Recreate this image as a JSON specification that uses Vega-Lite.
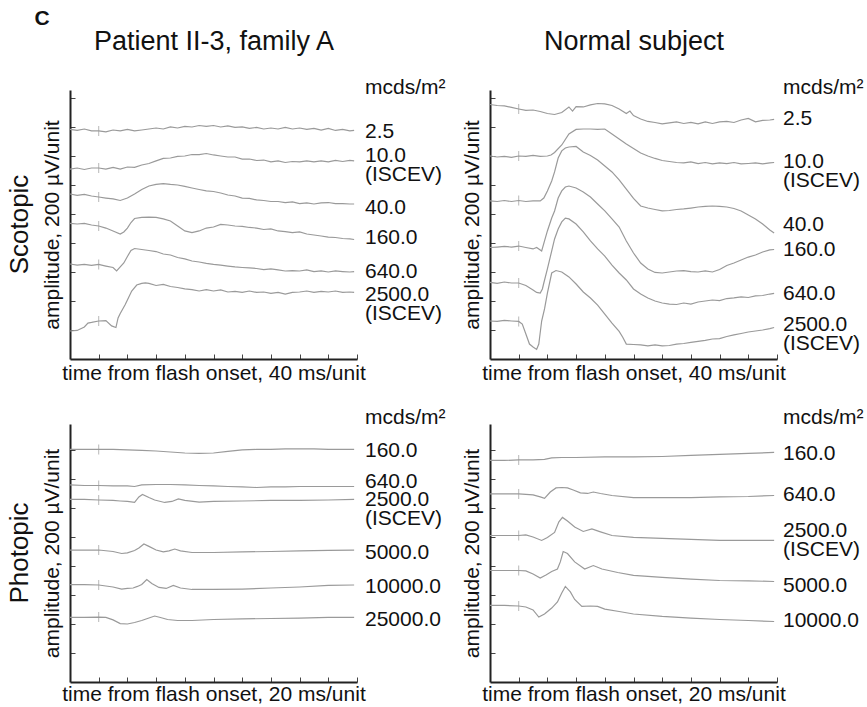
{
"$schema": "https://vega.github.io/schema/vega-lite/v6.json",
"padding": {"left": 6, "top": 8, "right": 0, "bottom": 0},
"background": "white",
"title": {"text": "C", "anchor": "start", "fontSize": 21, "fontWeight": "bold", "dx": 28, "offset": -2},
"datasets": {
"lsp": [{"k":"2.5","v":1576},{"k":"10.0 (ISCEV)","v":1410},{"k":"40.0","v":1050},{"k":"160.0","v":848},{"k":"640.0","v":607},{"k":"2500.0 (ISCEV)","v":452}],
"lsn": [{"k":"2.5","v":1666},{"k":"10.0 (ISCEV)","v":1369},{"k":"40.0","v":935},{"k":"160.0","v":762},{"k":"640.0","v":459},{"k":"2500.0 (ISCEV)","v":245}],
"lpp": [{"k":"160.0","v":1600},{"k":"640.0","v":1390},{"k":"2500.0 (ISCEV)","v":1266},{"k":"5000.0","v":900},{"k":"10000.0","v":666},{"k":"25000.0","v":438}],
"lpn": [{"k":"160.0","v":1583},{"k":"640.0","v":1297},{"k":"2500.0 (ISCEV)","v":1052},{"k":"5000.0","v":672},{"k":"10000.0","v":431}],
"sp": [
{"k":"2.5","t":-40,"v":1583},{"k":"2.5","t":-30,"v":1576},{"k":"2.5","t":-20,"v":1586},{"k":"2.5","t":-10,"v":1573},{"k":"2.5","t":0,"v":1573},{"k":"2.5","t":10,"v":1566},{"k":"2.5","t":20,"v":1579},{"k":"2.5","t":30,"v":1573},{"k":"2.5","t":40,"v":1583},{"k":"2.5","t":50,"v":1573},{"k":"2.5","t":60,"v":1579},{"k":"2.5","t":70,"v":1586},{"k":"2.5","t":80,"v":1593},{"k":"2.5","t":90,"v":1586},{"k":"2.5","t":100,"v":1600},{"k":"2.5","t":110,"v":1593},{"k":"2.5","t":120,"v":1604},{"k":"2.5","t":130,"v":1600},{"k":"2.5","t":140,"v":1610},{"k":"2.5","t":150,"v":1604},{"k":"2.5","t":160,"v":1610},{"k":"2.5","t":170,"v":1600},{"k":"2.5","t":180,"v":1607},{"k":"2.5","t":190,"v":1597},{"k":"2.5","t":200,"v":1600},{"k":"2.5","t":210,"v":1590},{"k":"2.5","t":220,"v":1597},{"k":"2.5","t":230,"v":1586},{"k":"2.5","t":240,"v":1593},{"k":"2.5","t":250,"v":1586},{"k":"2.5","t":260,"v":1597},{"k":"2.5","t":270,"v":1586},{"k":"2.5","t":280,"v":1593},{"k":"2.5","t":290,"v":1583},{"k":"2.5","t":300,"v":1590},{"k":"2.5","t":310,"v":1579},{"k":"2.5","t":320,"v":1590},{"k":"2.5","t":330,"v":1576},{"k":"2.5","t":340,"v":1583},{"k":"2.5","t":350,"v":1573},{"k":"2.5","t":356,"v":1576},
{"k":"10.0 (ISCEV)","t":-40,"v":1310},{"k":"10.0 (ISCEV)","t":-30,"v":1317},{"k":"10.0 (ISCEV)","t":-20,"v":1307},{"k":"10.0 (ISCEV)","t":-10,"v":1317},{"k":"10.0 (ISCEV)","t":0,"v":1317},{"k":"10.0 (ISCEV)","t":10,"v":1310},{"k":"10.0 (ISCEV)","t":20,"v":1321},{"k":"10.0 (ISCEV)","t":30,"v":1310},{"k":"10.0 (ISCEV)","t":40,"v":1324},{"k":"10.0 (ISCEV)","t":50,"v":1321},{"k":"10.0 (ISCEV)","t":60,"v":1338},{"k":"10.0 (ISCEV)","t":70,"v":1348},{"k":"10.0 (ISCEV)","t":80,"v":1366},{"k":"10.0 (ISCEV)","t":90,"v":1383},{"k":"10.0 (ISCEV)","t":100,"v":1386},{"k":"10.0 (ISCEV)","t":110,"v":1397},{"k":"10.0 (ISCEV)","t":120,"v":1400},{"k":"10.0 (ISCEV)","t":130,"v":1410},{"k":"10.0 (ISCEV)","t":140,"v":1410},{"k":"10.0 (ISCEV)","t":150,"v":1417},{"k":"10.0 (ISCEV)","t":160,"v":1407},{"k":"10.0 (ISCEV)","t":170,"v":1400},{"k":"10.0 (ISCEV)","t":180,"v":1393},{"k":"10.0 (ISCEV)","t":190,"v":1393},{"k":"10.0 (ISCEV)","t":200,"v":1379},{"k":"10.0 (ISCEV)","t":210,"v":1379},{"k":"10.0 (ISCEV)","t":220,"v":1369},{"k":"10.0 (ISCEV)","t":230,"v":1372},{"k":"10.0 (ISCEV)","t":240,"v":1359},{"k":"10.0 (ISCEV)","t":250,"v":1366},{"k":"10.0 (ISCEV)","t":260,"v":1355},{"k":"10.0 (ISCEV)","t":270,"v":1362},{"k":"10.0 (ISCEV)","t":280,"v":1359},{"k":"10.0 (ISCEV)","t":290,"v":1366},{"k":"10.0 (ISCEV)","t":300,"v":1359},{"k":"10.0 (ISCEV)","t":310,"v":1366},{"k":"10.0 (ISCEV)","t":320,"v":1359},{"k":"10.0 (ISCEV)","t":330,"v":1369},{"k":"10.0 (ISCEV)","t":340,"v":1362},{"k":"10.0 (ISCEV)","t":350,"v":1369},{"k":"10.0 (ISCEV)","t":356,"v":1366},
{"k":"40.0","t":-40,"v":1138},{"k":"40.0","t":-30,"v":1128},{"k":"40.0","t":-20,"v":1135},{"k":"40.0","t":-10,"v":1124},{"k":"40.0","t":0,"v":1117},{"k":"40.0","t":10,"v":1110},{"k":"40.0","t":20,"v":1104},{"k":"40.0","t":30,"v":1093},{"k":"40.0","t":40,"v":1110},{"k":"40.0","t":50,"v":1138},{"k":"40.0","t":60,"v":1169},{"k":"40.0","t":70,"v":1193},{"k":"40.0","t":80,"v":1204},{"k":"40.0","t":90,"v":1210},{"k":"40.0","t":100,"v":1204},{"k":"40.0","t":110,"v":1200},{"k":"40.0","t":120,"v":1190},{"k":"40.0","t":130,"v":1179},{"k":"40.0","t":140,"v":1169},{"k":"40.0","t":150,"v":1159},{"k":"40.0","t":160,"v":1155},{"k":"40.0","t":170,"v":1145},{"k":"40.0","t":180,"v":1131},{"k":"40.0","t":190,"v":1124},{"k":"40.0","t":200,"v":1110},{"k":"40.0","t":210,"v":1107},{"k":"40.0","t":220,"v":1097},{"k":"40.0","t":230,"v":1093},{"k":"40.0","t":240,"v":1086},{"k":"40.0","t":250,"v":1086},{"k":"40.0","t":260,"v":1079},{"k":"40.0","t":270,"v":1083},{"k":"40.0","t":280,"v":1072},{"k":"40.0","t":290,"v":1076},{"k":"40.0","t":300,"v":1069},{"k":"40.0","t":310,"v":1076},{"k":"40.0","t":320,"v":1079},{"k":"40.0","t":330,"v":1072},{"k":"40.0","t":340,"v":1072},{"k":"40.0","t":350,"v":1069},{"k":"40.0","t":356,"v":1069},
{"k":"160.0","t":-40,"v":935},{"k":"160.0","t":-30,"v":931},{"k":"160.0","t":-20,"v":935},{"k":"160.0","t":-10,"v":924},{"k":"160.0","t":0,"v":917},{"k":"160.0","t":10,"v":903},{"k":"160.0","t":20,"v":883},{"k":"160.0","t":30,"v":862},{"k":"160.0","t":35,"v":876},{"k":"160.0","t":40,"v":903},{"k":"160.0","t":45,"v":941},{"k":"160.0","t":50,"v":969},{"k":"160.0","t":60,"v":976},{"k":"160.0","t":70,"v":979},{"k":"160.0","t":80,"v":976},{"k":"160.0","t":90,"v":966},{"k":"160.0","t":100,"v":952},{"k":"160.0","t":110,"v":917},{"k":"160.0","t":120,"v":883},{"k":"160.0","t":130,"v":872},{"k":"160.0","t":140,"v":883},{"k":"160.0","t":150,"v":903},{"k":"160.0","t":160,"v":910},{"k":"160.0","t":170,"v":928},{"k":"160.0","t":180,"v":924},{"k":"160.0","t":190,"v":917},{"k":"160.0","t":200,"v":914},{"k":"160.0","t":210,"v":907},{"k":"160.0","t":220,"v":903},{"k":"160.0","t":230,"v":893},{"k":"160.0","t":240,"v":897},{"k":"160.0","t":250,"v":883},{"k":"160.0","t":260,"v":879},{"k":"160.0","t":270,"v":872},{"k":"160.0","t":280,"v":876},{"k":"160.0","t":290,"v":862},{"k":"160.0","t":300,"v":855},{"k":"160.0","t":310,"v":848},{"k":"160.0","t":320,"v":841},{"k":"160.0","t":330,"v":838},{"k":"160.0","t":340,"v":831},{"k":"160.0","t":350,"v":828},{"k":"160.0","t":356,"v":824},
{"k":"640.0","t":-40,"v":655},{"k":"640.0","t":-30,"v":648},{"k":"640.0","t":-20,"v":652},{"k":"640.0","t":-10,"v":645},{"k":"640.0","t":0,"v":652},{"k":"640.0","t":10,"v":641},{"k":"640.0","t":20,"v":631},{"k":"640.0","t":25,"v":607},{"k":"640.0","t":30,"v":635},{"k":"640.0","t":35,"v":662},{"k":"640.0","t":40,"v":707},{"k":"640.0","t":45,"v":748},{"k":"640.0","t":50,"v":762},{"k":"640.0","t":60,"v":755},{"k":"640.0","t":70,"v":748},{"k":"640.0","t":80,"v":741},{"k":"640.0","t":90,"v":724},{"k":"640.0","t":100,"v":717},{"k":"640.0","t":110,"v":700},{"k":"640.0","t":120,"v":690},{"k":"640.0","t":130,"v":676},{"k":"640.0","t":140,"v":669},{"k":"640.0","t":150,"v":659},{"k":"640.0","t":160,"v":652},{"k":"640.0","t":170,"v":648},{"k":"640.0","t":180,"v":641},{"k":"640.0","t":190,"v":635},{"k":"640.0","t":200,"v":631},{"k":"640.0","t":210,"v":628},{"k":"640.0","t":220,"v":624},{"k":"640.0","t":230,"v":617},{"k":"640.0","t":240,"v":621},{"k":"640.0","t":250,"v":614},{"k":"640.0","t":260,"v":607},{"k":"640.0","t":270,"v":610},{"k":"640.0","t":280,"v":607},{"k":"640.0","t":290,"v":614},{"k":"640.0","t":300,"v":603},{"k":"640.0","t":310,"v":607},{"k":"640.0","t":320,"v":600},{"k":"640.0","t":330,"v":607},{"k":"640.0","t":340,"v":603},{"k":"640.0","t":350,"v":600},{"k":"640.0","t":356,"v":603},
{"k":"2500.0 (ISCEV)","t":-40,"v":193},{"k":"2500.0 (ISCEV)","t":-30,"v":197},{"k":"2500.0 (ISCEV)","t":-20,"v":221},{"k":"2500.0 (ISCEV)","t":-15,"v":248},{"k":"2500.0 (ISCEV)","t":-10,"v":252},{"k":"2500.0 (ISCEV)","t":0,"v":262},{"k":"2500.0 (ISCEV)","t":10,"v":265},{"k":"2500.0 (ISCEV)","t":18,"v":228},{"k":"2500.0 (ISCEV)","t":24,"v":217},{"k":"2500.0 (ISCEV)","t":27,"v":283},{"k":"2500.0 (ISCEV)","t":30,"v":314},{"k":"2500.0 (ISCEV)","t":37,"v":376},{"k":"2500.0 (ISCEV)","t":40,"v":407},{"k":"2500.0 (ISCEV)","t":46,"v":469},{"k":"2500.0 (ISCEV)","t":53,"v":510},{"k":"2500.0 (ISCEV)","t":60,"v":521},{"k":"2500.0 (ISCEV)","t":65,"v":525},{"k":"2500.0 (ISCEV)","t":70,"v":521},{"k":"2500.0 (ISCEV)","t":80,"v":507},{"k":"2500.0 (ISCEV)","t":90,"v":514},{"k":"2500.0 (ISCEV)","t":100,"v":500},{"k":"2500.0 (ISCEV)","t":110,"v":493},{"k":"2500.0 (ISCEV)","t":120,"v":483},{"k":"2500.0 (ISCEV)","t":130,"v":479},{"k":"2500.0 (ISCEV)","t":140,"v":469},{"k":"2500.0 (ISCEV)","t":150,"v":479},{"k":"2500.0 (ISCEV)","t":160,"v":469},{"k":"2500.0 (ISCEV)","t":170,"v":476},{"k":"2500.0 (ISCEV)","t":180,"v":462},{"k":"2500.0 (ISCEV)","t":190,"v":466},{"k":"2500.0 (ISCEV)","t":200,"v":459},{"k":"2500.0 (ISCEV)","t":210,"v":469},{"k":"2500.0 (ISCEV)","t":220,"v":459},{"k":"2500.0 (ISCEV)","t":230,"v":462},{"k":"2500.0 (ISCEV)","t":240,"v":452},{"k":"2500.0 (ISCEV)","t":250,"v":459},{"k":"2500.0 (ISCEV)","t":260,"v":448},{"k":"2500.0 (ISCEV)","t":270,"v":459},{"k":"2500.0 (ISCEV)","t":280,"v":462},{"k":"2500.0 (ISCEV)","t":290,"v":469},{"k":"2500.0 (ISCEV)","t":300,"v":459},{"k":"2500.0 (ISCEV)","t":310,"v":466},{"k":"2500.0 (ISCEV)","t":320,"v":462},{"k":"2500.0 (ISCEV)","t":330,"v":469},{"k":"2500.0 (ISCEV)","t":340,"v":459},{"k":"2500.0 (ISCEV)","t":350,"v":462},{"k":"2500.0 (ISCEV)","t":356,"v":459}
],
"sn": [
{"k":"2.5","t":-40,"v":1755},{"k":"2.5","t":-30,"v":1748},{"k":"2.5","t":-20,"v":1745},{"k":"2.5","t":-10,"v":1735},{"k":"2.5","t":0,"v":1724},{"k":"2.5","t":10,"v":1714},{"k":"2.5","t":20,"v":1717},{"k":"2.5","t":30,"v":1707},{"k":"2.5","t":40,"v":1693},{"k":"2.5","t":50,"v":1686},{"k":"2.5","t":60,"v":1700},{"k":"2.5","t":70,"v":1738},{"k":"2.5","t":75,"v":1710},{"k":"2.5","t":80,"v":1741},{"k":"2.5","t":90,"v":1738},{"k":"2.5","t":100,"v":1752},{"k":"2.5","t":110,"v":1762},{"k":"2.5","t":120,"v":1759},{"k":"2.5","t":130,"v":1748},{"k":"2.5","t":140,"v":1724},{"k":"2.5","t":150,"v":1693},{"k":"2.5","t":155,"v":1710},{"k":"2.5","t":160,"v":1679},{"k":"2.5","t":170,"v":1655},{"k":"2.5","t":180,"v":1638},{"k":"2.5","t":190,"v":1631},{"k":"2.5","t":200,"v":1621},{"k":"2.5","t":210,"v":1628},{"k":"2.5","t":220,"v":1635},{"k":"2.5","t":230,"v":1624},{"k":"2.5","t":240,"v":1631},{"k":"2.5","t":250,"v":1621},{"k":"2.5","t":260,"v":1635},{"k":"2.5","t":270,"v":1624},{"k":"2.5","t":280,"v":1635},{"k":"2.5","t":290,"v":1638},{"k":"2.5","t":300,"v":1631},{"k":"2.5","t":310,"v":1648},{"k":"2.5","t":320,"v":1659},{"k":"2.5","t":330,"v":1635},{"k":"2.5","t":340,"v":1645},{"k":"2.5","t":350,"v":1648},{"k":"2.5","t":356,"v":1652},
{"k":"10.0 (ISCEV)","t":-40,"v":1400},{"k":"10.0 (ISCEV)","t":-30,"v":1393},{"k":"10.0 (ISCEV)","t":-20,"v":1397},{"k":"10.0 (ISCEV)","t":-10,"v":1390},{"k":"10.0 (ISCEV)","t":0,"v":1400},{"k":"10.0 (ISCEV)","t":10,"v":1397},{"k":"10.0 (ISCEV)","t":20,"v":1404},{"k":"10.0 (ISCEV)","t":30,"v":1397},{"k":"10.0 (ISCEV)","t":40,"v":1400},{"k":"10.0 (ISCEV)","t":45,"v":1407},{"k":"10.0 (ISCEV)","t":50,"v":1424},{"k":"10.0 (ISCEV)","t":60,"v":1476},{"k":"10.0 (ISCEV)","t":70,"v":1552},{"k":"10.0 (ISCEV)","t":80,"v":1583},{"k":"10.0 (ISCEV)","t":90,"v":1586},{"k":"10.0 (ISCEV)","t":100,"v":1586},{"k":"10.0 (ISCEV)","t":110,"v":1583},{"k":"10.0 (ISCEV)","t":120,"v":1586},{"k":"10.0 (ISCEV)","t":130,"v":1552},{"k":"10.0 (ISCEV)","t":140,"v":1517},{"k":"10.0 (ISCEV)","t":150,"v":1483},{"k":"10.0 (ISCEV)","t":160,"v":1452},{"k":"10.0 (ISCEV)","t":170,"v":1421},{"k":"10.0 (ISCEV)","t":180,"v":1400},{"k":"10.0 (ISCEV)","t":190,"v":1383},{"k":"10.0 (ISCEV)","t":200,"v":1369},{"k":"10.0 (ISCEV)","t":210,"v":1362},{"k":"10.0 (ISCEV)","t":220,"v":1355},{"k":"10.0 (ISCEV)","t":230,"v":1352},{"k":"10.0 (ISCEV)","t":240,"v":1359},{"k":"10.0 (ISCEV)","t":250,"v":1348},{"k":"10.0 (ISCEV)","t":260,"v":1355},{"k":"10.0 (ISCEV)","t":270,"v":1345},{"k":"10.0 (ISCEV)","t":280,"v":1352},{"k":"10.0 (ISCEV)","t":290,"v":1348},{"k":"10.0 (ISCEV)","t":300,"v":1355},{"k":"10.0 (ISCEV)","t":310,"v":1345},{"k":"10.0 (ISCEV)","t":320,"v":1348},{"k":"10.0 (ISCEV)","t":330,"v":1352},{"k":"10.0 (ISCEV)","t":340,"v":1345},{"k":"10.0 (ISCEV)","t":350,"v":1352},{"k":"10.0 (ISCEV)","t":356,"v":1355},
{"k":"40.0","t":-40,"v":1090},{"k":"40.0","t":-30,"v":1086},{"k":"40.0","t":-20,"v":1093},{"k":"40.0","t":-10,"v":1086},{"k":"40.0","t":0,"v":1093},{"k":"40.0","t":10,"v":1086},{"k":"40.0","t":20,"v":1090},{"k":"40.0","t":30,"v":1090},{"k":"40.0","t":35,"v":1110},{"k":"40.0","t":40,"v":1159},{"k":"40.0","t":46,"v":1228},{"k":"40.0","t":50,"v":1290},{"k":"40.0","t":55,"v":1386},{"k":"40.0","t":60,"v":1435},{"k":"40.0","t":65,"v":1455},{"k":"40.0","t":70,"v":1462},{"k":"40.0","t":80,"v":1466},{"k":"40.0","t":90,"v":1428},{"k":"40.0","t":100,"v":1404},{"k":"40.0","t":110,"v":1372},{"k":"40.0","t":120,"v":1331},{"k":"40.0","t":130,"v":1290},{"k":"40.0","t":140,"v":1235},{"k":"40.0","t":150,"v":1172},{"k":"40.0","t":160,"v":1107},{"k":"40.0","t":170,"v":1055},{"k":"40.0","t":180,"v":1041},{"k":"40.0","t":190,"v":1031},{"k":"40.0","t":200,"v":1021},{"k":"40.0","t":210,"v":1024},{"k":"40.0","t":220,"v":1031},{"k":"40.0","t":230,"v":1035},{"k":"40.0","t":240,"v":1041},{"k":"40.0","t":250,"v":1048},{"k":"40.0","t":260,"v":1052},{"k":"40.0","t":270,"v":1055},{"k":"40.0","t":280,"v":1052},{"k":"40.0","t":290,"v":1048},{"k":"40.0","t":300,"v":1038},{"k":"40.0","t":310,"v":1021},{"k":"40.0","t":320,"v":993},{"k":"40.0","t":330,"v":966},{"k":"40.0","t":340,"v":931},{"k":"40.0","t":350,"v":890},{"k":"40.0","t":356,"v":869},
{"k":"160.0","t":-40,"v":769},{"k":"160.0","t":-30,"v":772},{"k":"160.0","t":-20,"v":776},{"k":"160.0","t":-10,"v":772},{"k":"160.0","t":0,"v":779},{"k":"160.0","t":10,"v":769},{"k":"160.0","t":20,"v":759},{"k":"160.0","t":25,"v":769},{"k":"160.0","t":32,"v":745},{"k":"160.0","t":36,"v":814},{"k":"160.0","t":40,"v":883},{"k":"160.0","t":46,"v":972},{"k":"160.0","t":50,"v":1021},{"k":"160.0","t":55,"v":1110},{"k":"160.0","t":60,"v":1159},{"k":"160.0","t":65,"v":1186},{"k":"160.0","t":70,"v":1193},{"k":"160.0","t":80,"v":1179},{"k":"160.0","t":90,"v":1152},{"k":"160.0","t":100,"v":1117},{"k":"160.0","t":110,"v":1069},{"k":"160.0","t":120,"v":1021},{"k":"160.0","t":130,"v":966},{"k":"160.0","t":140,"v":910},{"k":"160.0","t":150,"v":814},{"k":"160.0","t":160,"v":731},{"k":"160.0","t":170,"v":662},{"k":"160.0","t":180,"v":621},{"k":"160.0","t":190,"v":597},{"k":"160.0","t":200,"v":593},{"k":"160.0","t":210,"v":600},{"k":"160.0","t":220,"v":607},{"k":"160.0","t":230,"v":610},{"k":"160.0","t":240,"v":603},{"k":"160.0","t":250,"v":600},{"k":"160.0","t":260,"v":607},{"k":"160.0","t":270,"v":600},{"k":"160.0","t":280,"v":617},{"k":"160.0","t":290,"v":645},{"k":"160.0","t":300,"v":662},{"k":"160.0","t":310,"v":683},{"k":"160.0","t":320,"v":703},{"k":"160.0","t":330,"v":717},{"k":"160.0","t":340,"v":738},{"k":"160.0","t":350,"v":752},{"k":"160.0","t":356,"v":755},
{"k":"640.0","t":-40,"v":528},{"k":"640.0","t":-30,"v":521},{"k":"640.0","t":-20,"v":531},{"k":"640.0","t":-10,"v":524},{"k":"640.0","t":0,"v":524},{"k":"640.0","t":10,"v":507},{"k":"640.0","t":20,"v":476},{"k":"640.0","t":25,"v":459},{"k":"640.0","t":30,"v":455},{"k":"640.0","t":33,"v":483},{"k":"640.0","t":35,"v":524},{"k":"640.0","t":40,"v":621},{"k":"640.0","t":50,"v":828},{"k":"640.0","t":55,"v":897},{"k":"640.0","t":60,"v":945},{"k":"640.0","t":65,"v":972},{"k":"640.0","t":70,"v":966},{"k":"640.0","t":80,"v":931},{"k":"640.0","t":90,"v":876},{"k":"640.0","t":100,"v":814},{"k":"640.0","t":110,"v":759},{"k":"640.0","t":120,"v":710},{"k":"640.0","t":130,"v":648},{"k":"640.0","t":140,"v":593},{"k":"640.0","t":150,"v":545},{"k":"640.0","t":160,"v":483},{"k":"640.0","t":170,"v":448},{"k":"640.0","t":180,"v":421},{"k":"640.0","t":190,"v":400},{"k":"640.0","t":200,"v":386},{"k":"640.0","t":210,"v":379},{"k":"640.0","t":220,"v":376},{"k":"640.0","t":230,"v":386},{"k":"640.0","t":240,"v":379},{"k":"640.0","t":250,"v":393},{"k":"640.0","t":260,"v":400},{"k":"640.0","t":270,"v":407},{"k":"640.0","t":280,"v":403},{"k":"640.0","t":290,"v":417},{"k":"640.0","t":300,"v":421},{"k":"640.0","t":310,"v":428},{"k":"640.0","t":320,"v":424},{"k":"640.0","t":330,"v":435},{"k":"640.0","t":340,"v":438},{"k":"640.0","t":350,"v":448},{"k":"640.0","t":356,"v":452},
{"k":"2500.0 (ISCEV)","t":-40,"v":262},{"k":"2500.0 (ISCEV)","t":-30,"v":259},{"k":"2500.0 (ISCEV)","t":-20,"v":266},{"k":"2500.0 (ISCEV)","t":-10,"v":262},{"k":"2500.0 (ISCEV)","t":0,"v":259},{"k":"2500.0 (ISCEV)","t":5,"v":241},{"k":"2500.0 (ISCEV)","t":10,"v":172},{"k":"2500.0 (ISCEV)","t":15,"v":103},{"k":"2500.0 (ISCEV)","t":20,"v":83},{"k":"2500.0 (ISCEV)","t":25,"v":66},{"k":"2500.0 (ISCEV)","t":28,"v":103},{"k":"2500.0 (ISCEV)","t":32,"v":262},{"k":"2500.0 (ISCEV)","t":36,"v":345},{"k":"2500.0 (ISCEV)","t":40,"v":455},{"k":"2500.0 (ISCEV)","t":46,"v":593},{"k":"2500.0 (ISCEV)","t":52,"v":610},{"k":"2500.0 (ISCEV)","t":60,"v":600},{"k":"2500.0 (ISCEV)","t":70,"v":566},{"k":"2500.0 (ISCEV)","t":80,"v":517},{"k":"2500.0 (ISCEV)","t":90,"v":462},{"k":"2500.0 (ISCEV)","t":100,"v":421},{"k":"2500.0 (ISCEV)","t":110,"v":372},{"k":"2500.0 (ISCEV)","t":120,"v":310},{"k":"2500.0 (ISCEV)","t":130,"v":248},{"k":"2500.0 (ISCEV)","t":140,"v":190},{"k":"2500.0 (ISCEV)","t":145,"v":150},{"k":"2500.0 (ISCEV)","t":150,"v":103},{"k":"2500.0 (ISCEV)","t":160,"v":100},{"k":"2500.0 (ISCEV)","t":170,"v":97},{"k":"2500.0 (ISCEV)","t":180,"v":90},{"k":"2500.0 (ISCEV)","t":190,"v":97},{"k":"2500.0 (ISCEV)","t":200,"v":90},{"k":"2500.0 (ISCEV)","t":210,"v":93},{"k":"2500.0 (ISCEV)","t":220,"v":103},{"k":"2500.0 (ISCEV)","t":230,"v":107},{"k":"2500.0 (ISCEV)","t":240,"v":114},{"k":"2500.0 (ISCEV)","t":250,"v":121},{"k":"2500.0 (ISCEV)","t":260,"v":128},{"k":"2500.0 (ISCEV)","t":270,"v":138},{"k":"2500.0 (ISCEV)","t":280,"v":141},{"k":"2500.0 (ISCEV)","t":290,"v":155},{"k":"2500.0 (ISCEV)","t":300,"v":166},{"k":"2500.0 (ISCEV)","t":310,"v":176},{"k":"2500.0 (ISCEV)","t":320,"v":186},{"k":"2500.0 (ISCEV)","t":330,"v":193},{"k":"2500.0 (ISCEV)","t":340,"v":200},{"k":"2500.0 (ISCEV)","t":350,"v":210},{"k":"2500.0 (ISCEV)","t":356,"v":217}
],
"pp": [
{"k":"160.0","t":-20,"v":1604},{"k":"160.0","t":-10,"v":1604},{"k":"160.0","t":0,"v":1604},{"k":"160.0","t":10,"v":1604},{"k":"160.0","t":20,"v":1600},{"k":"160.0","t":30,"v":1597},{"k":"160.0","t":40,"v":1593},{"k":"160.0","t":50,"v":1586},{"k":"160.0","t":60,"v":1579},{"k":"160.0","t":70,"v":1576},{"k":"160.0","t":80,"v":1579},{"k":"160.0","t":90,"v":1590},{"k":"160.0","t":100,"v":1600},{"k":"160.0","t":110,"v":1604},{"k":"160.0","t":120,"v":1604},{"k":"160.0","t":130,"v":1607},{"k":"160.0","t":140,"v":1607},{"k":"160.0","t":150,"v":1607},{"k":"160.0","t":160,"v":1604},{"k":"160.0","t":170,"v":1604},{"k":"160.0","t":178,"v":1604},
{"k":"640.0","t":-20,"v":1359},{"k":"640.0","t":-10,"v":1355},{"k":"640.0","t":0,"v":1355},{"k":"640.0","t":10,"v":1352},{"k":"640.0","t":20,"v":1352},{"k":"640.0","t":25,"v":1348},{"k":"640.0","t":30,"v":1359},{"k":"640.0","t":40,"v":1362},{"k":"640.0","t":50,"v":1362},{"k":"640.0","t":60,"v":1359},{"k":"640.0","t":70,"v":1355},{"k":"640.0","t":80,"v":1352},{"k":"640.0","t":90,"v":1348},{"k":"640.0","t":100,"v":1345},{"k":"640.0","t":110,"v":1341},{"k":"640.0","t":120,"v":1345},{"k":"640.0","t":130,"v":1345},{"k":"640.0","t":140,"v":1348},{"k":"640.0","t":150,"v":1348},{"k":"640.0","t":160,"v":1348},{"k":"640.0","t":170,"v":1348},{"k":"640.0","t":178,"v":1348},
{"k":"2500.0 (ISCEV)","t":-20,"v":1259},{"k":"2500.0 (ISCEV)","t":-10,"v":1259},{"k":"2500.0 (ISCEV)","t":0,"v":1255},{"k":"2500.0 (ISCEV)","t":10,"v":1252},{"k":"2500.0 (ISCEV)","t":15,"v":1248},{"k":"2500.0 (ISCEV)","t":20,"v":1245},{"k":"2500.0 (ISCEV)","t":25,"v":1238},{"k":"2500.0 (ISCEV)","t":28,"v":1276},{"k":"2500.0 (ISCEV)","t":30.5,"v":1293},{"k":"2500.0 (ISCEV)","t":35,"v":1272},{"k":"2500.0 (ISCEV)","t":39,"v":1255},{"k":"2500.0 (ISCEV)","t":46,"v":1238},{"k":"2500.0 (ISCEV)","t":51,"v":1245},{"k":"2500.0 (ISCEV)","t":55.5,"v":1262},{"k":"2500.0 (ISCEV)","t":60,"v":1252},{"k":"2500.0 (ISCEV)","t":70,"v":1241},{"k":"2500.0 (ISCEV)","t":80,"v":1245},{"k":"2500.0 (ISCEV)","t":100,"v":1248},{"k":"2500.0 (ISCEV)","t":120,"v":1252},{"k":"2500.0 (ISCEV)","t":140,"v":1252},{"k":"2500.0 (ISCEV)","t":160,"v":1255},{"k":"2500.0 (ISCEV)","t":178,"v":1259},
{"k":"5000.0","t":-20,"v":910},{"k":"5000.0","t":-10,"v":910},{"k":"5000.0","t":0,"v":910},{"k":"5000.0","t":10,"v":900},{"k":"5000.0","t":16,"v":886},{"k":"5000.0","t":20,"v":890},{"k":"5000.0","t":25,"v":907},{"k":"5000.0","t":28,"v":924},{"k":"5000.0","t":31.5,"v":952},{"k":"5000.0","t":35,"v":935},{"k":"5000.0","t":40,"v":910},{"k":"5000.0","t":45,"v":897},{"k":"5000.0","t":49,"v":904},{"k":"5000.0","t":53,"v":917},{"k":"5000.0","t":57,"v":904},{"k":"5000.0","t":65,"v":893},{"k":"5000.0","t":80,"v":893},{"k":"5000.0","t":100,"v":897},{"k":"5000.0","t":120,"v":900},{"k":"5000.0","t":140,"v":904},{"k":"5000.0","t":160,"v":907},{"k":"5000.0","t":178,"v":910},
{"k":"10000.0","t":-20,"v":672},{"k":"10000.0","t":-10,"v":672},{"k":"10000.0","t":0,"v":669},{"k":"10000.0","t":10,"v":655},{"k":"10000.0","t":16,"v":641},{"k":"10000.0","t":20,"v":645},{"k":"10000.0","t":24,"v":648},{"k":"10000.0","t":27,"v":659},{"k":"10000.0","t":30,"v":672},{"k":"10000.0","t":33.5,"v":707},{"k":"10000.0","t":37,"v":679},{"k":"10000.0","t":42,"v":652},{"k":"10000.0","t":47,"v":645},{"k":"10000.0","t":52,"v":666},{"k":"10000.0","t":57,"v":648},{"k":"10000.0","t":65,"v":638},{"k":"10000.0","t":80,"v":638},{"k":"10000.0","t":100,"v":641},{"k":"10000.0","t":120,"v":648},{"k":"10000.0","t":140,"v":655},{"k":"10000.0","t":160,"v":666},{"k":"10000.0","t":178,"v":669},
{"k":"25000.0","t":-20,"v":445},{"k":"25000.0","t":-10,"v":445},{"k":"25000.0","t":0,"v":448},{"k":"25000.0","t":5,"v":445},{"k":"25000.0","t":10,"v":428},{"k":"25000.0","t":15,"v":403},{"k":"25000.0","t":20,"v":400},{"k":"25000.0","t":25,"v":410},{"k":"25000.0","t":30,"v":424},{"k":"25000.0","t":35,"v":441},{"k":"25000.0","t":39,"v":455},{"k":"25000.0","t":43,"v":445},{"k":"25000.0","t":48,"v":431},{"k":"25000.0","t":55,"v":424},{"k":"25000.0","t":65,"v":424},{"k":"25000.0","t":80,"v":431},{"k":"25000.0","t":100,"v":435},{"k":"25000.0","t":120,"v":438},{"k":"25000.0","t":140,"v":441},{"k":"25000.0","t":160,"v":445},{"k":"25000.0","t":178,"v":445}
],
"pn": [
{"k":"160.0","t":-20,"v":1528},{"k":"160.0","t":-10,"v":1528},{"k":"160.0","t":0,"v":1531},{"k":"160.0","t":10,"v":1531},{"k":"160.0","t":18,"v":1535},{"k":"160.0","t":23,"v":1545},{"k":"160.0","t":30,"v":1548},{"k":"160.0","t":40,"v":1548},{"k":"160.0","t":60,"v":1552},{"k":"160.0","t":80,"v":1552},{"k":"160.0","t":100,"v":1555},{"k":"160.0","t":120,"v":1562},{"k":"160.0","t":140,"v":1569},{"k":"160.0","t":160,"v":1576},{"k":"160.0","t":178,"v":1583},
{"k":"640.0","t":-20,"v":1297},{"k":"640.0","t":-10,"v":1297},{"k":"640.0","t":0,"v":1297},{"k":"640.0","t":10,"v":1290},{"k":"640.0","t":15,"v":1276},{"k":"640.0","t":18,"v":1266},{"k":"640.0","t":22,"v":1310},{"k":"640.0","t":26,"v":1338},{"k":"640.0","t":30,"v":1341},{"k":"640.0","t":34,"v":1338},{"k":"640.0","t":38,"v":1324},{"k":"640.0","t":43,"v":1304},{"k":"640.0","t":48,"v":1300},{"k":"640.0","t":52,"v":1310},{"k":"640.0","t":57,"v":1300},{"k":"640.0","t":65,"v":1286},{"k":"640.0","t":80,"v":1272},{"k":"640.0","t":100,"v":1272},{"k":"640.0","t":120,"v":1272},{"k":"640.0","t":140,"v":1276},{"k":"640.0","t":160,"v":1279},{"k":"640.0","t":178,"v":1286},
{"k":"2500.0 (ISCEV)","t":-20,"v":1010},{"k":"2500.0 (ISCEV)","t":-10,"v":1010},{"k":"2500.0 (ISCEV)","t":0,"v":1010},{"k":"2500.0 (ISCEV)","t":5,"v":1014},{"k":"2500.0 (ISCEV)","t":10,"v":1000},{"k":"2500.0 (ISCEV)","t":16,"v":976},{"k":"2500.0 (ISCEV)","t":20,"v":997},{"k":"2500.0 (ISCEV)","t":25,"v":1031},{"k":"2500.0 (ISCEV)","t":28,"v":1104},{"k":"2500.0 (ISCEV)","t":30.5,"v":1135},{"k":"2500.0 (ISCEV)","t":34,"v":1110},{"k":"2500.0 (ISCEV)","t":39,"v":1069},{"k":"2500.0 (ISCEV)","t":45,"v":1038},{"k":"2500.0 (ISCEV)","t":51,"v":1055},{"k":"2500.0 (ISCEV)","t":57,"v":1035},{"k":"2500.0 (ISCEV)","t":65,"v":1010},{"k":"2500.0 (ISCEV)","t":80,"v":997},{"k":"2500.0 (ISCEV)","t":100,"v":990},{"k":"2500.0 (ISCEV)","t":120,"v":983},{"k":"2500.0 (ISCEV)","t":140,"v":976},{"k":"2500.0 (ISCEV)","t":160,"v":976},{"k":"2500.0 (ISCEV)","t":178,"v":976},
{"k":"5000.0","t":-20,"v":769},{"k":"5000.0","t":-10,"v":769},{"k":"5000.0","t":0,"v":769},{"k":"5000.0","t":5,"v":766},{"k":"5000.0","t":10,"v":745},{"k":"5000.0","t":15,"v":717},{"k":"5000.0","t":19,"v":738},{"k":"5000.0","t":23,"v":762},{"k":"5000.0","t":27,"v":779},{"k":"5000.0","t":29,"v":828},{"k":"5000.0","t":31,"v":900},{"k":"5000.0","t":34,"v":886},{"k":"5000.0","t":39,"v":828},{"k":"5000.0","t":46,"v":779},{"k":"5000.0","t":52,"v":803},{"k":"5000.0","t":58,"v":779},{"k":"5000.0","t":69,"v":755},{"k":"5000.0","t":80,"v":735},{"k":"5000.0","t":100,"v":721},{"k":"5000.0","t":120,"v":710},{"k":"5000.0","t":140,"v":700},{"k":"5000.0","t":160,"v":697},{"k":"5000.0","t":178,"v":693},
{"k":"10000.0","t":-20,"v":528},{"k":"10000.0","t":-10,"v":528},{"k":"10000.0","t":0,"v":524},{"k":"10000.0","t":5,"v":517},{"k":"10000.0","t":10,"v":497},{"k":"10000.0","t":14,"v":448},{"k":"10000.0","t":18,"v":469},{"k":"10000.0","t":23,"v":510},{"k":"10000.0","t":27,"v":552},{"k":"10000.0","t":30,"v":614},{"k":"10000.0","t":32.5,"v":659},{"k":"10000.0","t":36,"v":621},{"k":"10000.0","t":39,"v":569},{"k":"10000.0","t":44,"v":521},{"k":"10000.0","t":50,"v":524},{"k":"10000.0","t":55,"v":521},{"k":"10000.0","t":60,"v":503},{"k":"10000.0","t":70,"v":486},{"k":"10000.0","t":80,"v":469},{"k":"10000.0","t":100,"v":452},{"k":"10000.0","t":120,"v":441},{"k":"10000.0","t":140,"v":431},{"k":"10000.0","t":160,"v":424},{"k":"10000.0","t":178,"v":417}
]
},
"columns": 2,
"spacing": {"row": 65, "column": 133},
"bounds": "flush",
"concat": [
{
"width": 287, "height": 269,
"title": {"text": "Scotopic", "orient": "left", "frame": "group", "fontSize": 26, "fontWeight": "normal", "offset": 9},
"layer": [
{"data": {"name": "sp"},
 "mark": {"type": "line", "color": "#9a9a9a", "strokeWidth": 1.2},
 "encoding": {
 "x": {"field": "t", "type": "quantitative", "scale": {"domain": [-40, 360], "nice": false, "zero": false}, "axis": {"orient": "bottom", "title": "time from flash onset, 40 ms/unit", "values": [0,40,80,120,160,200,240,280,320,360], "titlePadding": 3}},
 "y": {"field": "v", "type": "quantitative", "scale": {"domain": [0, 1855], "nice": false}, "axis": {"title": "amplitude, 200 µV/unit", "values": [200,400,600,800,1000,1200,1400,1600,1800], "titlePadding": 7}},
 "detail": {"field": "k"}}},
{"data": {"name": "sp"},
 "transform": [{"filter": "datum.t == 0"}],
 "mark": {"type": "tick", "orient": "vertical", "color": "#9a9a9a", "size": 10, "thickness": 1},
 "encoding": {
 "x": {"field": "t", "type": "quantitative", "axis": {"orient": "top", "title": "Patient II-3, family A", "domain": false, "ticks": false, "titleFontSize": 27, "titlePadding": 35}},
 "y": {"field": "v", "type": "quantitative", "axis": null}}},
{"data": {"name": "lsp"},
 "mark": {"type": "text", "align": "left", "baseline": "alphabetic", "dx": 8, "dy": 7.5, "fontSize": 21, "lineBreak": " ", "lineHeight": 19, "color": "#111"},
 "encoding": {"x": {"datum": 360, "type": "quantitative", "axis": null}, "y": {"field": "v", "type": "quantitative", "axis": null}, "text": {"field": "k"}}},
{"data": {"values": [{"u": "mcds/m²"}]},
 "mark": {"type": "text", "align": "left", "baseline": "alphabetic", "dx": 8, "fontSize": 21, "color": "#111"},
 "encoding": {"x": {"datum": 360, "type": "quantitative", "axis": null}, "y": {"datum": 1828, "type": "quantitative", "axis": null}, "text": {"field": "u"}}}
],
"resolve": {"axis": {"x": "independent", "y": "independent"}}
},
{
"width": 287, "height": 269,
"layer": [
{"data": {"name": "sn"},
 "mark": {"type": "line", "color": "#9a9a9a", "strokeWidth": 1.2},
 "encoding": {
 "x": {"field": "t", "type": "quantitative", "scale": {"domain": [-40, 360], "nice": false, "zero": false}, "axis": {"orient": "bottom", "title": "time from flash onset, 40 ms/unit", "values": [0,40,80,120,160,200,240,280,320,360], "titlePadding": 3}},
 "y": {"field": "v", "type": "quantitative", "scale": {"domain": [0, 1855], "nice": false}, "axis": {"title": "amplitude, 200 µV/unit", "values": [200,400,600,800,1000,1200,1400,1600,1800], "titlePadding": 7}},
 "detail": {"field": "k"}}},
{"data": {"name": "sn"},
 "transform": [{"filter": "datum.t == 0"}],
 "mark": {"type": "tick", "orient": "vertical", "color": "#9a9a9a", "size": 10, "thickness": 1},
 "encoding": {
 "x": {"field": "t", "type": "quantitative", "axis": {"orient": "top", "title": "Normal subject", "domain": false, "ticks": false, "titleFontSize": 27, "titlePadding": 35}},
 "y": {"field": "v", "type": "quantitative", "axis": null}}},
{"data": {"name": "lsn"},
 "mark": {"type": "text", "align": "left", "baseline": "alphabetic", "dx": 6, "dy": 7.5, "fontSize": 21, "lineBreak": " ", "lineHeight": 19, "color": "#111"},
 "encoding": {"x": {"datum": 360, "type": "quantitative", "axis": null}, "y": {"field": "v", "type": "quantitative", "axis": null}, "text": {"field": "k"}}},
{"data": {"values": [{"u": "mcds/m²"}]},
 "mark": {"type": "text", "align": "left", "baseline": "alphabetic", "dx": 6, "fontSize": 21, "color": "#111"},
 "encoding": {"x": {"datum": 360, "type": "quantitative", "axis": null}, "y": {"datum": 1828, "type": "quantitative", "axis": null}, "text": {"field": "u"}}}
],
"resolve": {"axis": {"x": "independent", "y": "independent"}}
},
{
"width": 287, "height": 258,
"title": {"text": "Photopic", "orient": "left", "frame": "group", "fontSize": 26, "fontWeight": "normal", "offset": 9},
"layer": [
{"data": {"name": "pp"},
 "mark": {"type": "line", "color": "#9a9a9a", "strokeWidth": 1.2},
 "encoding": {
 "x": {"field": "t", "type": "quantitative", "scale": {"domain": [-20, 180], "nice": false, "zero": false}, "axis": {"orient": "bottom", "title": "time from flash onset, 20 ms/unit", "values": [0,20,40,60,80,100,120,140,160,180], "titlePadding": 1}},
 "y": {"field": "v", "type": "quantitative", "scale": {"domain": [0, 1779], "nice": false}, "axis": {"title": "amplitude, 200 µV/unit", "values": [200,400,600,800,1000,1200,1400,1600], "titlePadding": 7}},
 "detail": {"field": "k"}}},
{"data": {"name": "pp"},
 "transform": [{"filter": "datum.t == 0"}],
 "mark": {"type": "tick", "orient": "vertical", "color": "#9a9a9a", "size": 10, "thickness": 1},
 "encoding": {
 "x": {"field": "t", "type": "quantitative", "axis": null},
 "y": {"field": "v", "type": "quantitative", "axis": null}}},
{"data": {"name": "lpp"},
 "mark": {"type": "text", "align": "left", "baseline": "alphabetic", "dx": 8, "dy": 7.5, "fontSize": 21, "lineBreak": " ", "lineHeight": 19, "color": "#111"},
 "encoding": {"x": {"datum": 180, "type": "quantitative", "axis": null}, "y": {"field": "v", "type": "quantitative", "axis": null}, "text": {"field": "k"}}},
{"data": {"values": [{"u": "mcds/m²"}]},
 "mark": {"type": "text", "align": "left", "baseline": "alphabetic", "dx": 8, "fontSize": 21, "color": "#111"},
 "encoding": {"x": {"datum": 180, "type": "quantitative", "axis": null}, "y": {"datum": 1779, "type": "quantitative", "axis": null}, "text": {"field": "u"}}}
],
"resolve": {"axis": {"x": "independent", "y": "independent"}}
},
{
"width": 287, "height": 258,
"layer": [
{"data": {"name": "pn"},
 "mark": {"type": "line", "color": "#9a9a9a", "strokeWidth": 1.2},
 "encoding": {
 "x": {"field": "t", "type": "quantitative", "scale": {"domain": [-20, 180], "nice": false, "zero": false}, "axis": {"orient": "bottom", "title": "time from flash onset, 20 ms/unit", "values": [0,20,40,60,80,100,120,140,160,180], "titlePadding": 1}},
 "y": {"field": "v", "type": "quantitative", "scale": {"domain": [0, 1779], "nice": false}, "axis": {"title": "amplitude, 200 µV/unit", "values": [200,400,600,800,1000,1200,1400,1600], "titlePadding": 7}},
 "detail": {"field": "k"}}},
{"data": {"name": "pn"},
 "transform": [{"filter": "datum.t == 0"}],
 "mark": {"type": "tick", "orient": "vertical", "color": "#9a9a9a", "size": 10, "thickness": 1},
 "encoding": {
 "x": {"field": "t", "type": "quantitative", "axis": null},
 "y": {"field": "v", "type": "quantitative", "axis": null}}},
{"data": {"name": "lpn"},
 "mark": {"type": "text", "align": "left", "baseline": "alphabetic", "dx": 6, "dy": 7.5, "fontSize": 21, "lineBreak": " ", "lineHeight": 19, "color": "#111"},
 "encoding": {"x": {"datum": 180, "type": "quantitative", "axis": null}, "y": {"field": "v", "type": "quantitative", "axis": null}, "text": {"field": "k"}}},
{"data": {"values": [{"u": "mcds/m²"}]},
 "mark": {"type": "text", "align": "left", "baseline": "alphabetic", "dx": 6, "fontSize": 21, "color": "#111"},
 "encoding": {"x": {"datum": 180, "type": "quantitative", "axis": null}, "y": {"datum": 1779, "type": "quantitative", "axis": null}, "text": {"field": "u"}}}
],
"resolve": {"axis": {"x": "independent", "y": "independent"}}
}
],
"config": {
"font": "Liberation Sans",
"view": {"stroke": null},
"axis": {"grid": false, "labels": false, "tickSize": -5, "tickColor": "#444", "tickWidth": 1, "domainColor": "#222", "domainWidth": 2, "titleFont": "Liberation Sans", "titleFontSize": 21, "titleFontWeight": "normal", "titleColor": "#111"},
"title": {"font": "Liberation Sans", "color": "#111"},
"text": {"font": "Liberation Sans"}
}
}
